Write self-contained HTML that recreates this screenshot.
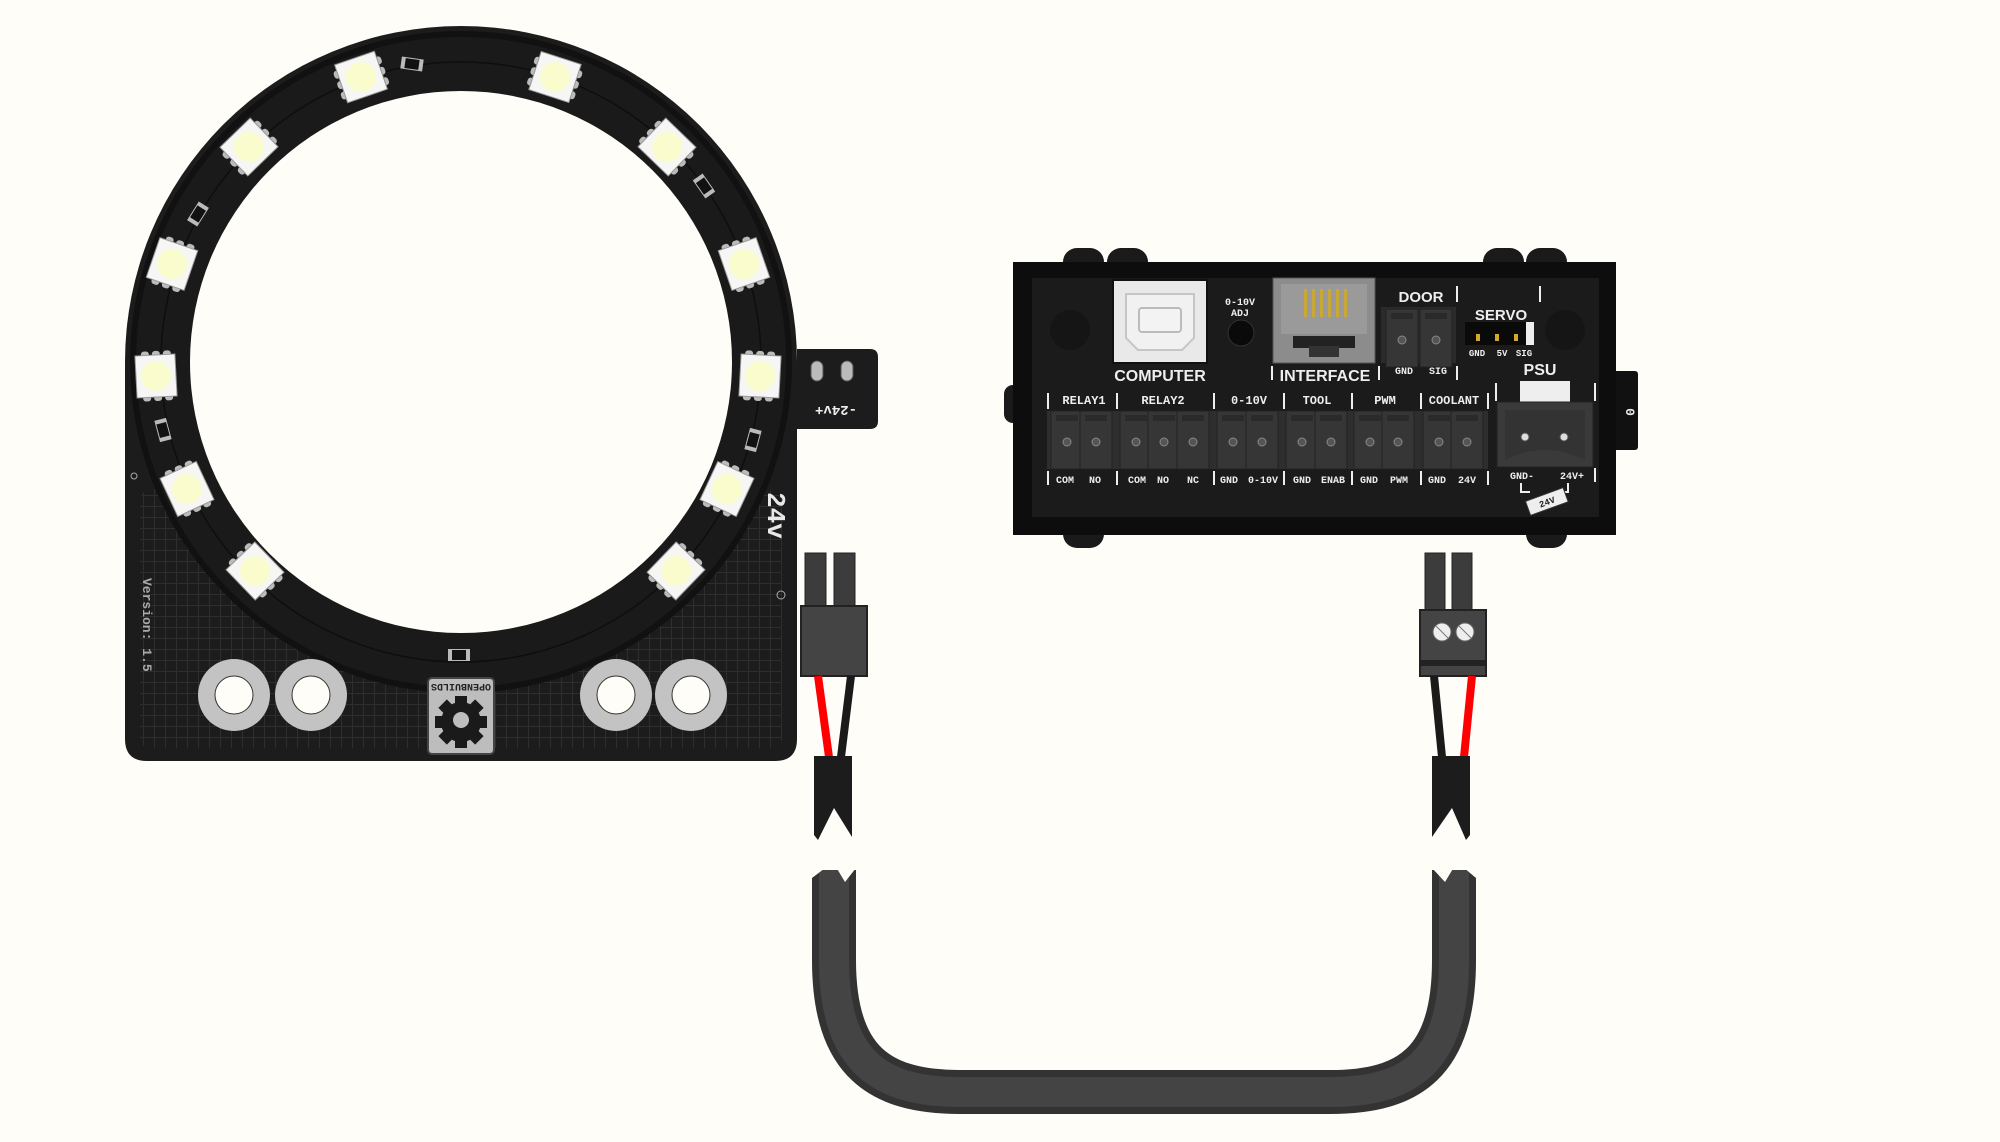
<!DOCTYPE html>
<html><head><meta charset="utf-8"><style>
html,body{margin:0;padding:0;background:#fffdf8;}
svg{display:block;}
text{font-family:"Liberation Mono",monospace;font-weight:bold;fill:#eee;}
.s{font-family:"Liberation Sans",sans-serif;}
</style></head><body>
<svg width="2000" height="1142" viewBox="0 0 2000 1142" xmlns="http://www.w3.org/2000/svg">
<defs>
<pattern id="grid" width="11" height="11" patternUnits="userSpaceOnUse">
<rect width="11" height="11" fill="#1c1c1c"/>
<path d="M0 0H11M0 0V11" stroke="#2e2e2e" stroke-width="2"/>
</pattern>
<g id="led">
<rect x="-25" y="-14" width="6" height="8" rx="3" fill="#bbb"/>
<rect x="-25" y="-3" width="6" height="8" rx="3" fill="#bbb"/>
<rect x="-25" y="8" width="6" height="8" rx="3" fill="#bbb"/>
<rect x="19" y="-14" width="6" height="8" rx="3" fill="#bbb"/>
<rect x="19" y="-3" width="6" height="8" rx="3" fill="#bbb"/>
<rect x="19" y="8" width="6" height="8" rx="3" fill="#bbb"/>
<rect x="-21" y="-20" width="42" height="40" fill="#f6f6f4" stroke="#999" stroke-width="1"/>
<circle r="15" fill="#fbfcce"/>
</g>
<g id="res"><rect x="-11" y="-6" width="22" height="12" fill="#bbb"/><rect x="-7" y="-5" width="14" height="10" fill="#111"/></g>
<g id="term">
<rect x="-16" y="0" width="32" height="58" fill="#363636" stroke="#222"/>
<rect x="-11" y="4" width="22" height="6" fill="#2a2a2a"/>
<circle cx="0" cy="31" r="4" fill="#555" stroke="#888"/>
</g>
</defs>

<!-- LED ring board -->
<path d="M125,362 V739 Q125,761 147,761 H775 Q797,761 797,739 V362 Z" fill="#1c1c1c"/>
<circle cx="461" cy="362" r="336" fill="#1c1c1c"/>
<path d="M797,349 H870 Q878,349 878,357 V421 Q878,429 870,429 H797 Z" fill="#1c1c1c"/>
<rect x="140" y="490" width="642" height="258" rx="10" fill="url(#grid)"/>
<circle cx="461" cy="362" r="328" fill="#1a1a1a" stroke="#111" stroke-width="6"/>
<circle cx="461" cy="362" r="300" fill="none" stroke="#0e0e0e" stroke-width="1.5"/>
<circle cx="461" cy="362" r="271" fill="#fffdf8"/>

<g transform="translate(361,77) rotate(-19)"><use href="#led"/></g>
<g transform="translate(555,77) rotate(18)"><use href="#led"/></g>
<g transform="translate(667,147) rotate(44)"><use href="#led"/></g>
<g transform="translate(744,264) rotate(71)"><use href="#led"/></g>
<g transform="translate(760,376) rotate(93)"><use href="#led"/></g>
<g transform="translate(727,489) rotate(115)"><use href="#led"/></g>
<g transform="translate(676,571) rotate(134)"><use href="#led"/></g>
<g transform="translate(255,571) rotate(-134)"><use href="#led"/></g>
<g transform="translate(187,489) rotate(-115)"><use href="#led"/></g>
<g transform="translate(156,376) rotate(-93)"><use href="#led"/></g>
<g transform="translate(172,264) rotate(-71)"><use href="#led"/></g>
<g transform="translate(249,147) rotate(-44)"><use href="#led"/></g>

<g transform="translate(412,64) rotate(8)"><use href="#res"/></g>
<g transform="translate(198,214) rotate(-58)"><use href="#res"/></g>
<g transform="translate(704,186) rotate(55)"><use href="#res"/></g>
<g transform="translate(163,430) rotate(-105)"><use href="#res"/></g>
<g transform="translate(753,440) rotate(105)"><use href="#res"/></g>
<g transform="translate(459,655)"><use href="#res"/></g>

<g fill="#c3c3c3"><circle cx="234" cy="695" r="36"/><circle cx="311" cy="695" r="36"/><circle cx="616" cy="695" r="36"/><circle cx="691" cy="695" r="36"/></g>
<g fill="#fffdf8" stroke="#333"><circle cx="234" cy="695" r="19"/><circle cx="311" cy="695" r="19"/><circle cx="616" cy="695" r="19"/><circle cx="691" cy="695" r="19"/></g>

<rect x="428" y="678" width="66" height="76" rx="4" fill="#bdbdbd" stroke="#444" stroke-width="2"/>
<text x="461" y="690" font-size="10" text-anchor="middle" fill="#222" transform="rotate(180 461 687)" style="fill:#222">OPENBUILDS</text>
<circle cx="461" cy="722" r="20" fill="#1a1a1a"/>
<g fill="#1a1a1a"><rect x="455" y="696" width="12" height="52"/><rect x="435" y="716" width="52" height="12"/>
<rect x="455" y="696" width="12" height="52" transform="rotate(45 461 722)"/><rect x="455" y="696" width="12" height="52" transform="rotate(-45 461 722)"/></g>
<circle cx="461" cy="720" r="8" fill="#bdbdbd"/>

<text x="0" y="0" font-size="13" transform="translate(143,578) rotate(90)" style="fill:#aaa">Version: 1.5</text>
<text x="0" y="0" font-size="26" transform="translate(768,492) rotate(90)" style="fill:#e8e8e8">24v</text>
<circle cx="781" cy="595" r="4" fill="none" stroke="#aaa"/>
<circle cx="134" cy="476" r="3" fill="none" stroke="#aaa"/>
<text x="0" y="0" font-size="14" text-anchor="middle" transform="translate(836,406) rotate(180)" style="fill:#eee">-24v+</text>
<rect x="811" y="361" width="12" height="20" rx="6" fill="#bbb" stroke="#555"/>
<rect x="841" y="361" width="12" height="20" rx="6" fill="#bbb" stroke="#555"/>

<!-- Controller box -->
<g fill="#1a1a1a">
<rect x="1063" y="248" width="41" height="30" rx="14"/><rect x="1107" y="248" width="41" height="30" rx="14"/>
<rect x="1483" y="248" width="41" height="30" rx="14"/><rect x="1526" y="248" width="41" height="30" rx="14"/>
<rect x="1063" y="520" width="41" height="28" rx="14"/><rect x="1526" y="520" width="41" height="28" rx="14"/>
<rect x="1004" y="385" width="20" height="38" rx="9"/>
<rect x="1612" y="371" width="26" height="79" rx="3" fill="#111"/>
</g>
<text x="1630" y="416" font-size="13" text-anchor="middle" transform="rotate(90 1630 412)">0</text>
<rect x="1013" y="262" width="603" height="273" fill="#0d0d0d"/>
<rect x="1032" y="278" width="567" height="239" fill="#1b1b1b"/>
<circle cx="1070" cy="330" r="20" fill="#151515"/>
<circle cx="1565" cy="330" r="20" fill="#151515"/>

<rect x="1113" y="280" width="94" height="83" fill="#e9e9e9" stroke="#111" stroke-width="2"/>
<path d="M1126,294 H1194 V338 L1182,350 H1138 L1126,338 Z" fill="#f1f1f1" stroke="#c6c6c6" stroke-width="2"/>
<rect x="1139" y="308" width="42" height="24" rx="3" fill="#f3f3f3" stroke="#bbb" stroke-width="2"/>
<text x="1160" y="381" font-size="16" text-anchor="middle" class="s">COMPUTER</text>

<text x="1240" y="305" font-size="10" text-anchor="middle">0-10V</text>
<text x="1240" y="316" font-size="10" text-anchor="middle">ADJ</text>
<circle cx="1241" cy="333" r="13" fill="#0a0a0a" stroke="#333"/>

<rect x="1273" y="278" width="102" height="85" fill="#8c8c8c" stroke="#555"/>
<rect x="1281" y="284" width="86" height="50" fill="#9a9a9a"/>
<g fill="#c9a838"><rect x="1304" y="289" width="3" height="28"/><rect x="1312" y="289" width="3" height="28"/><rect x="1320" y="289" width="3" height="28"/><rect x="1328" y="289" width="3" height="28"/><rect x="1336" y="289" width="3" height="28"/><rect x="1344" y="289" width="3" height="28"/></g>
<rect x="1293" y="336" width="62" height="12" fill="#222"/>
<rect x="1309" y="346" width="30" height="11" fill="#333"/>
<text x="1325" y="381" font-size="16" text-anchor="middle" class="s">INTERFACE</text>
<rect x="1271" y="366" width="2" height="14" fill="#eee"/><rect x="1378" y="366" width="2" height="14" fill="#eee"/>

<text x="1421" y="302" font-size="15" text-anchor="middle" class="s">DOOR</text>
<rect x="1456" y="286" width="2" height="16" fill="#eee"/><rect x="1539" y="286" width="2" height="16" fill="#eee"/>
<rect x="1381" y="307" width="75" height="56" fill="#2b2b2b"/>
<g transform="translate(1402,309)"><use href="#term"/></g>
<g transform="translate(1436,309)"><use href="#term"/></g>
<text x="1404" y="374" font-size="10" text-anchor="middle">GND</text>
<text x="1438" y="374" font-size="10" text-anchor="middle">SIG</text>
<rect x="1456" y="366" width="2" height="14" fill="#eee"/>

<text x="1501" y="320" font-size="15" text-anchor="middle" class="s">SERVO</text>
<rect x="1465" y="322" width="64" height="23" fill="#0a0a0a"/>
<rect x="1526" y="322" width="8" height="23" fill="#eee"/>
<g fill="#d6a82a"><rect x="1476" y="334" width="4" height="7"/><rect x="1495" y="334" width="4" height="7"/><rect x="1514" y="334" width="4" height="7"/></g>
<text x="1477" y="356" font-size="9" text-anchor="middle">GND</text>
<text x="1502" y="356" font-size="9" text-anchor="middle">5V</text>
<text x="1524" y="356" font-size="9" text-anchor="middle">SIG</text>

<text x="1540" y="375" font-size="16" text-anchor="middle" class="s">PSU</text>
<rect x="1520" y="381" width="50" height="22" fill="#eee"/>
<rect x="1497" y="402" width="96" height="65" fill="#3a3a3a" stroke="#222"/>
<path d="M1505,410 H1585 V460 Q1545,440 1505,460 Z" fill="#333"/>
<circle cx="1525" cy="437" r="4" fill="#ddd" stroke="#555"/>
<circle cx="1564" cy="437" r="4" fill="#ddd" stroke="#555"/>
<rect x="1495" y="383" width="2" height="18" fill="#eee"/><rect x="1594" y="383" width="2" height="18" fill="#eee"/>
<text x="1522" y="479" font-size="10" text-anchor="middle">GND-</text>
<text x="1572" y="479" font-size="10" text-anchor="middle">24V+</text>
<path d="M1521,483 V492 H1530 M1568,483 V492 H1560" stroke="#eee" stroke-width="2" fill="none"/>
<g transform="translate(1547,502) rotate(-20)"><rect x="-20" y="-8" width="40" height="15" fill="#eee" stroke="#333"/><text x="0" y="3" font-size="9" text-anchor="middle" style="fill:#222">24V</text></g>
<rect x="1594" y="468" width="2" height="14" fill="#eee"/>

<g font-size="12" text-anchor="middle">
<text x="1084" y="404">RELAY1</text><text x="1163" y="404">RELAY2</text><text x="1249" y="404">0-10V</text>
<text x="1317" y="404">TOOL</text><text x="1385" y="404">PWM</text><text x="1454" y="404">COOLANT</text>
</g>
<g fill="#eee">
<rect x="1047" y="393" width="2" height="16"/><rect x="1116" y="393" width="2" height="16"/><rect x="1213" y="393" width="2" height="16"/><rect x="1283" y="393" width="2" height="16"/><rect x="1351" y="393" width="2" height="16"/><rect x="1420" y="393" width="2" height="16"/><rect x="1487" y="393" width="2" height="16"/>
<rect x="1047" y="471" width="2" height="14"/><rect x="1116" y="471" width="2" height="14"/><rect x="1213" y="471" width="2" height="14"/><rect x="1283" y="471" width="2" height="14"/><rect x="1351" y="471" width="2" height="14"/><rect x="1420" y="471" width="2" height="14"/><rect x="1487" y="471" width="2" height="14"/>
</g>
<rect x="1047" y="411" width="441" height="58" fill="#2e2e2e"/>
<g transform="translate(0,411)">
<use href="#term" x="1067"/><use href="#term" x="1096"/><use href="#term" x="1136"/><use href="#term" x="1164"/><use href="#term" x="1193"/>
<use href="#term" x="1233"/><use href="#term" x="1262"/><use href="#term" x="1302"/><use href="#term" x="1331"/><use href="#term" x="1370"/>
<use href="#term" x="1398"/><use href="#term" x="1439"/><use href="#term" x="1467"/>
</g>
<g font-size="10" text-anchor="middle">
<text x="1065" y="483">COM</text><text x="1095" y="483">NO</text><text x="1137" y="483">COM</text><text x="1163" y="483">NO</text><text x="1193" y="483">NC</text>
<text x="1229" y="483">GND</text><text x="1263" y="483">0-10V</text><text x="1302" y="483">GND</text><text x="1333" y="483">ENAB</text>
<text x="1369" y="483">GND</text><text x="1399" y="483">PWM</text><text x="1437" y="483">GND</text><text x="1467" y="483">24V</text>
</g>

<!-- Left connector + wires -->
<rect x="805" y="553" width="21" height="55" fill="#3c3c3c" stroke="#222"/>
<rect x="834" y="553" width="21" height="55" fill="#3c3c3c" stroke="#222"/>
<rect x="801" y="606" width="66" height="70" fill="#444" stroke="#222" stroke-width="2"/>
<line x1="818" y1="676" x2="829" y2="757" stroke="#f00" stroke-width="8"/>
<line x1="851" y1="676" x2="841" y2="757" stroke="#1a1a1a" stroke-width="8"/>
<path d="M814,756 H852 V837 L834,808 L818,840 L814,835 Z" fill="#1c1c1c"/>

<!-- Right connector + wires -->
<rect x="1425" y="553" width="20" height="58" fill="#3c3c3c" stroke="#222"/>
<rect x="1452" y="553" width="20" height="58" fill="#3c3c3c" stroke="#222"/>
<rect x="1420" y="610" width="66" height="66" fill="#444" stroke="#222" stroke-width="2"/>
<circle cx="1442" cy="632" r="9" fill="#eee" stroke="#666"/><circle cx="1465" cy="632" r="9" fill="#eee" stroke="#666"/>
<line x1="1436" y1="626" x2="1448" y2="638" stroke="#777"/><line x1="1459" y1="626" x2="1471" y2="638" stroke="#777"/>
<rect x="1420" y="660" width="66" height="6" fill="#222"/>
<line x1="1434" y1="676" x2="1442" y2="757" stroke="#1a1a1a" stroke-width="8"/>
<line x1="1472" y1="676" x2="1464" y2="757" stroke="#f00" stroke-width="8"/>
<path d="M1432,756 H1470 V835 L1466,840 L1452,808 L1432,837 Z" fill="#1c1c1c"/>

<!-- Cable loop -->
<path d="M834,870 V960 C834,1062 880,1092 960,1092 H1330 C1410,1092 1454,1062 1454,960 V870" fill="none" stroke="#333" stroke-width="44"/>
<path d="M834,870 V960 C834,1062 880,1092 960,1092 H1330 C1410,1092 1454,1062 1454,960 V870" fill="none" stroke="#444" stroke-width="30"/>
<path d="M804,850 H864 V875 L856,868 L845,882 L833,862 L812,878 L804,878 Z" fill="#fffdf8"/>
<path d="M1424,850 H1484 V878 L1476,878 L1457,862 L1445,882 L1432,868 L1424,875 Z" fill="#fffdf8"/>
</svg>
</body></html>
